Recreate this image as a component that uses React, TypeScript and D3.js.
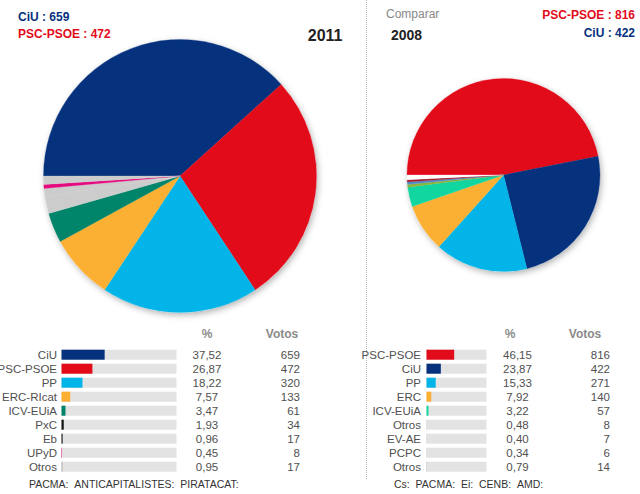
import React from "react";
import * as d3 from "d3";

const NAVY = "#05317d";
const RED = "#e20b1a";
const LBLUE = "#03b4e8";
const ORANGE = "#fbb034";

// 2011
const parties2011 = ["CiU", "PSC-PSOE", "PP", "ERC-RIcat", "ICV-EUiA", "PxC", "Eb", "UPyD", "Otros"];
const pct2011 = [37.52, 26.87, 18.22, 7.57, 3.47, 1.93, 0.96, 0.45, 0.95];
const votes2011 = [659, 472, 320, 133, 61, 34, 17, 8, 17];
const barColors2011 = [NAVY, RED, LBLUE, ORANGE, "#00856a", "#111111", "#111111", "#e5097f", "#b5b5b5"];
const pieColors2011 = [NAVY, RED, LBLUE, ORANGE, "#00856a", "#cccccc", "#cccccc", "#e5097f", "#cccccc"];
const footer2011 = "PACMA:  ANTICAPITALISTES:  PIRATACAT:";

// 2008
const parties2008 = ["PSC-PSOE", "CiU", "PP", "ERC", "ICV-EUiA", "Otros", "EV-AE", "PCPC", "Otros"];
const pct2008 = [46.15, 23.87, 15.33, 7.92, 3.22, 0.48, 0.4, 0.34, 0.79];
const votes2008 = [816, 422, 271, 140, 57, 8, 7, 6, 14];
const barColors2008 = [RED, NAVY, LBLUE, ORANGE, "#12d6a0", "#bbbbbb", "#bbbbbb", "#bbbbbb", "#bbbbbb"];
const pieColors2008 = [RED, NAVY, LBLUE, ORANGE, "#12d6a0", "#8db33a", "#4f8fc9", "#a31a2e", "#ffffff"];
const footer2008 = "Cs:  PACMA:  Ei:  CENB:  AMD:";

const FONT = "'Liberation Sans', Arial, Helvetica, sans-serif";

function Pie({ cx, cy, r, values, colors }: { cx: number; cy: number; r: number; values: number[]; colors: string[] }) {
  const pie = d3
    .pie<number>()
    .sort(null)
    .value((d) => d)
    .startAngle(-Math.PI / 2)
    .endAngle((3 * Math.PI) / 2);
  const arc = d3.arc<d3.PieArcDatum<number>>().innerRadius(0).outerRadius(r);
  const arcs = pie(values);
  return (
    <g transform={`translate(${cx},${cy})`}>
      <circle r={r} fill="#ffffff" filter="url(#pieShadow)" />
      {arcs.map((a, i) => (
        <path key={i} d={arc(a) || ""} fill={colors[i]} stroke={colors[i]} strokeWidth={0.3} />
      ))}
    </g>
  );
}

function Table({
  labels, pcts, votes, colors, labelX, barX, barW, pctX, pctHeadX, votesX, votesHeadX, footer, footerX,
}: {
  labels: string[]; pcts: number[]; votes: number[]; colors: string[]; labelX: number; barX: number; barW: number;
  pctX: number; pctHeadX: number; votesX: number; votesHeadX: number; footer: string; footerX: number;
}) {
  const y0 = 354.7;
  const step = 14;
  const x = d3.scaleLinear().domain([0, 100]).range([0, barW]);
  return (
    <g fontFamily={FONT}>
      <text x={pctHeadX} y={337.5} textAnchor="middle" fontSize={12} fontWeight="bold" fill="#8a8a8a">%</text>
      <text x={votesHeadX} y={337.5} textAnchor="middle" fontSize={12} fontWeight="bold" fill="#8a8a8a">Votos</text>
      {labels.map((l, i) => {
        const cy = y0 + i * step;
        return (
          <g key={i}>
            <text x={labelX} y={cy + 4} textAnchor="end" fontSize={11.5} fill="#505050">{l}</text>
            <rect x={barX} y={cy - 5} width={barW} height={10} fill="#e3e3e3" />
            <rect x={barX} y={cy - 5} width={x(pcts[i])} height={10} fill={colors[i]} />
            <text x={pctX} y={cy + 4} textAnchor="middle" fontSize={11.5} fill="#505050">
              {pcts[i].toFixed(2).replace(".", ",")}
            </text>
            <text x={votesX} y={cy + 4} textAnchor="end" fontSize={11.5} fill="#505050">{votes[i]}</text>
          </g>
        );
      })}
      <text x={footerX} y={487.5} fontSize={10.5} fill="#333">{footer.replace(/ /g, "\u00a0")}</text>
    </g>
  );
}

export default function App() {
  return (
    <svg
      width={640}
      height={494}
      style={{ position: "absolute", left: 0, top: 0, background: "#fff" }}
      fontFamily={FONT}
    >
      <defs>
        <filter id="pieShadow" x="-20%" y="-20%" width="140%" height="140%">
          <feDropShadow dx={1.5} dy={2.5} stdDeviation={3} floodColor="#000" floodOpacity={0.3} />
        </filter>
      </defs>
      <rect width={640} height={494} fill="#fff" />

      {/* divider */}
      <line x1={366.5} y1={0} x2={366.5} y2={479} stroke="#b8b8b8" strokeWidth={1} strokeDasharray="1,1" />

      {/* left header */}
      <text x={18} y={20.7} fontSize={12} fontWeight="bold" fill={NAVY}>CiU : 659</text>
      <text x={18} y={37.5} fontSize={12} fontWeight="bold" fill={RED}>PSC-PSOE : 472</text>
      <text x={342.5} y={40.7} textAnchor="end" fontSize={16} fontWeight="bold" fill="#222">2011</text>

      {/* right header */}
      <text x={386} y={18.3} fontSize={12} fill="#888">Comparar</text>
      <text x={391} y={39.5} fontSize={14} fontWeight="bold" fill="#222">2008</text>
      <text x={635} y={19} textAnchor="end" fontSize={12} fontWeight="bold" fill={RED}>PSC-PSOE : 816</text>
      <text x={635} y={36.7} textAnchor="end" fontSize={12} fontWeight="bold" fill={NAVY}>CiU : 422</text>

      <Pie cx={180} cy={176} r={136.5} values={votes2011} colors={pieColors2011} />
      <Pie cx={503.5} cy={175} r={96.5} values={votes2008} colors={pieColors2008} />

      <Table
        labels={parties2011} pcts={pct2011} votes={votes2011} colors={barColors2011}
        labelX={57} barX={61.5} barW={115} pctX={207} pctHeadX={207} votesX={300} votesHeadX={282}
        footer={footer2011} footerX={29}
      />
      <Table
        labels={parties2008} pcts={pct2008} votes={votes2008} colors={barColors2008}
        labelX={421} barX={426.5} barW={60} pctX={517.5} pctHeadX={510} votesX={610} votesHeadX={585}
        footer={footer2008} footerX={394}
      />
    </svg>
  );
}
